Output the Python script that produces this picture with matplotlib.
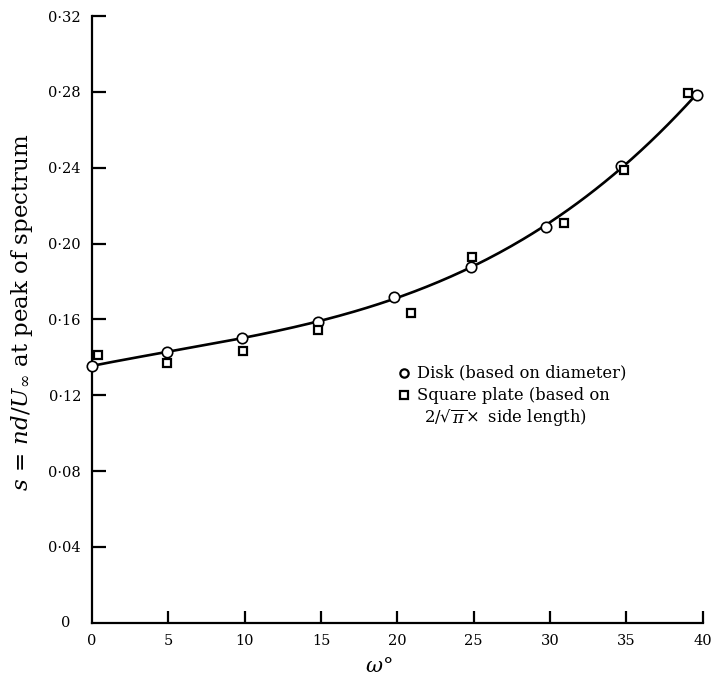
import numpy as np
import matplotlib
matplotlib.use("Agg")
import matplotlib.pyplot as plt

plt.rcParams["font.family"] = ["DejaVu Serif"]
plt.rcParams["mathtext.fontset"] = "dejavuserif"

# Strouhal number at the spectrum peak vs. angle of inclination
disk_w = [0.0, 4.9, 9.85, 14.8, 19.8, 24.8, 29.75, 34.65, 39.6]
disk_s = [0.1355, 0.1428, 0.1500, 0.1586, 0.1717, 0.1875, 0.2085, 0.2408, 0.2785]

plate_w = [0.4, 4.9, 9.9, 14.8, 20.9, 24.9, 30.9, 34.85, 39.05]
plate_s = [0.1410, 0.1372, 0.1432, 0.1545, 0.1632, 0.1928, 0.2110, 0.2388, 0.2795]

xticks = [0, 5, 10, 15, 20, 25, 30, 35, 40]
yticks = [0.04, 0.08, 0.12, 0.16, 0.20, 0.24, 0.28, 0.32]

fig = plt.figure(figsize=(7.11, 6.81), dpi=100)
ax = fig.add_axes([0.1294, 0.0856, 0.8589, 0.8909])

# faired curve through the disk results
coef = np.polyfit(disk_w, disk_s, 3)
wc = np.linspace(0, 39.3, 200)
ax.plot(wc, np.polyval(coef, wc), color="black", lw=1.9, zorder=2)

ax.plot(disk_w, disk_s, "o", ms=7.5, mfc="white", mec="black", mew=1.2,
        clip_on=False, zorder=3)
ax.plot(plate_w, plate_s, "s", ms=5.5, mfc="white", mec="black", mew=1.6,
        clip_on=False, zorder=3)

ax.set_xlim(0, 40)
ax.set_ylim(0, 0.32)
for side in ("top", "right"):
    ax.spines[side].set_visible(False)
for side in ("left", "bottom"):
    ax.spines[side].set_linewidth(1.6)

ax.set_xticks(xticks)
ax.set_xticklabels([str(t) for t in xticks])
ax.set_yticks(yticks)
ax.set_yticklabels([("%.2f" % t).replace(".", "\u00b7") for t in yticks])
ax.tick_params(axis="both", direction="in", length=10, width=1.6,
               labelsize=10.5, pad=8)
ax.tick_params(axis="x", length=9)
ax.xaxis.get_major_ticks()[0].tick1line.set_visible(False)
ax.text(-0.035, 0, "0", transform=ax.get_yaxis_transform(), ha="right",
        va="center", fontsize=10.5)

ax.set_xlabel(r"$\omega$°", fontsize=15, labelpad=8)
ax.xaxis.set_label_coords(0.47, -0.057)
ax.set_ylabel(r"$s\,=\,nd/U_{\infty}$ at peak of spectrum", fontsize=16.5)
ax.yaxis.set_label_coords(-0.094, 0.512)

# key
ax.plot([20.45], [0.1318], "o", ms=6, mfc="white", mec="black", mew=1.6, zorder=3)
ax.plot([20.45], [0.1200], "s", ms=5.5, mfc="white", mec="black", mew=1.6, zorder=3)
ax.text(21.3, 0.1318, "Disk (based on diameter)", fontsize=11.8, va="center")
ax.text(21.3, 0.1200, "Square plate (based on", fontsize=11.8, va="center")
ax.text(21.75, 0.1082, r"2/$\sqrt{\pi}\!\times$ side length)", fontsize=11.8,
        va="center")

fig.savefig("out.png", dpi=100)
